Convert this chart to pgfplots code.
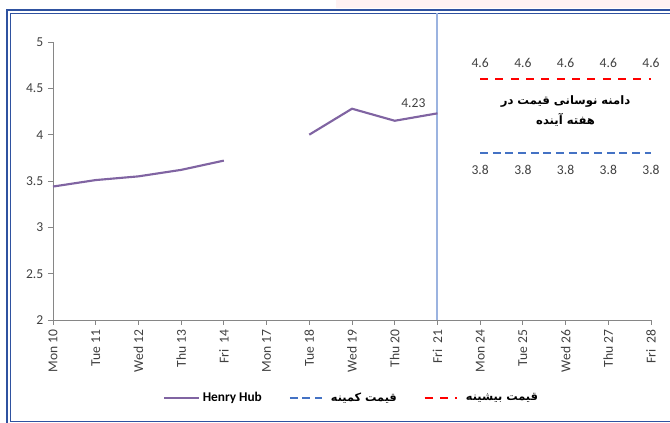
\documentclass[border=0pt]{standalone}
\usepackage{pgfplots}
\pgfplotsset{compat=1.18}
\usepackage{fontspec}
\setmainfont{Carlito}
\newfontfamily\arabicfont[Script=Arabic]{DejaVu Sans}
\TeXXeTstate=1
\definecolor{hh}{HTML}{8064A2}
\definecolor{minb}{HTML}{4472C4}
\definecolor{maxr}{HTML}{FF0000}
\definecolor{framec}{HTML}{2F52A0}
\definecolor{vline}{HTML}{9BB3E0}
\definecolor{axgray}{HTML}{868686}
\definecolor{txt}{HTML}{404040}
\pgfplotsset{
  longleg/.style={legend image code/.code={\draw[##1] (0pt,0pt) -- (26pt,0pt);}},
  shortleg/.style={legend image code/.code={\draw[##1] (0pt,0pt) -- (24pt,0pt);}},
}
\begin{document}
\begin{tikzpicture}
\useasboundingbox (0,0) rectangle (502.5pt,317.25pt);
\clip (0,0) rectangle (502.5pt,317.25pt);
\fill[red!5] (252pt,311pt) rectangle (502.5pt,317.25pt);
\draw[framec, line width=1.1pt] (5.25pt,-5pt) rectangle (515pt,309.75pt);
\draw[framec, line width=1.1pt] (7.9pt,1.3pt) rectangle (512pt,307.3pt);
\begin{axis}[
  at={(39.75pt,77.25pt)}, anchor=south west,
  scale only axis, width=448.5pt, height=208.5pt,
  xmin=0, xmax=14, ymin=2, ymax=5,
  xtick={0,...,14},
  xticklabels={Mon 10,Tue 11,Wed 12,Thu 13,Fri\ \ 14,Mon 17,Tue 18,Wed 19,Thu 20,Fri\ \ 21,Mon 24,Tue 25,Wed 26,Thu 27,Fri\ \ 28},
  ytick={2,2.5,...,5},
  axis x line=bottom, axis y line=left,
  every outer x axis line/.append style={-},
  every outer y axis line/.append style={-},
  axis line style={axgray, line width=0.6pt},
  tick align=outside, major tick length=3.75pt,
  tick style={axgray, line width=0.6pt},
  x tick label style={rotate=90, anchor=east, font=\fontsize{10.2}{12}\selectfont, text=txt},
  y tick label style={font=\fontsize{10.2}{12}\selectfont, text=txt},
  /pgf/number format/assume math mode=true,
  clip=false,
  unbounded coords=jump,
  legend columns=3,
  legend style={at={(0.5,-0.28)}, anchor=center, draw=none, fill=none,
    font=\fontsize{10}{12}\selectfont,
    /tikz/every even column/.append style={column sep=18pt}},
]
\draw[vline, line width=1.5pt] (axis cs:9,2) -- (axis cs:9,5.31);
\addplot[hh, line width=1.6pt, longleg]
  coordinates {(0,3.44)(1,3.51)(2,3.55)(3,3.62)(4,3.72)(5,nan)(6,4.00)(7,4.28)(8,4.15)(9,4.23)};
\addlegendentry{\textbf{Henry Hub}}
\addplot[minb, line width=1.8pt, dash pattern=on 6pt off 3.5pt, shortleg,
  nodes near coords,
  every node near coord/.append style={text=txt, font=\fontsize{10.2}{12}\selectfont, anchor=north, yshift=-5pt}]
  coordinates {(10,3.8)(11,3.8)(12,3.8)(13,3.8)(14,3.8)};
\addlegendentry{\hspace{4pt}\arabicfont\bfseries\fontsize{8.5}{11}\selectfont\beginR قیمت کمینه\endR}
\addplot[maxr, line width=1.8pt, dash pattern=on 6pt off 5.5pt, shortleg,
  nodes near coords,
  every node near coord/.append style={text=txt, font=\fontsize{10.2}{12}\selectfont, anchor=south, yshift=4pt}]
  coordinates {(10,4.6)(11,4.6)(12,4.6)(13,4.6)(14,4.6)};
\addlegendentry{\hspace{4pt}\arabicfont\bfseries\fontsize{8.5}{11}\selectfont\beginR قیمت بیشینه\endR}
\node[anchor=east, text=txt, font=\fontsize{10.2}{12}\selectfont] at (axis cs:8.83,4.342) {4.23};
\node[align=center, font=\arabicfont\bfseries\fontsize{8.7}{15}\selectfont, text=black] at (axis cs:12,4.255)
  {\beginR دامنه نوسانی قیمت در\endR\\\beginR هفته آینده\endR};
\end{axis}
\end{tikzpicture}
\end{document}
